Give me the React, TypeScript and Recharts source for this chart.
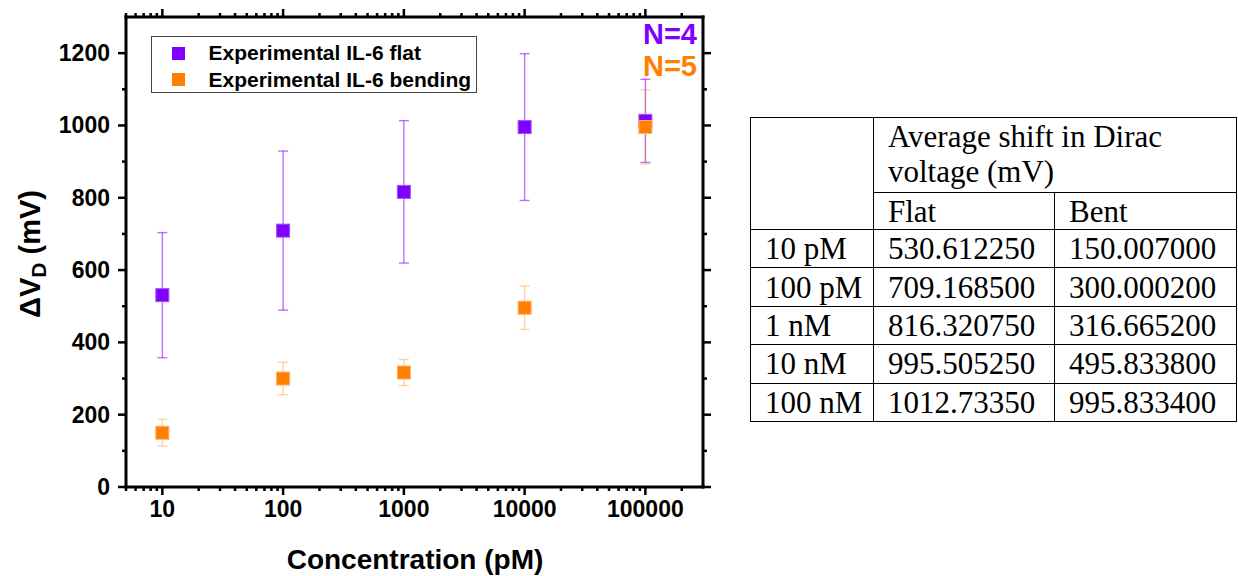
import React from 'react';
import { ScatterChart, Scatter, XAxis, YAxis, ErrorBar } from 'recharts';

// concentrations in pM
const concentrations = [10, 100, 1000, 10000, 100000];
const flatMean = [530.61225, 709.1685, 816.32075, 995.50525, 1012.7335];
const flatErr = [173, 220, 197, 203, 115];
const bentMean = [150.007, 300.0002, 316.6652, 495.8338, 995.8334];
const bentErr = [37, 45, 36, 60, 103];

const xMajorTicks = [10, 100, 1000, 10000, 100000];
const xDecades = [1, 10, 100, 1000, 10000, 100000];
const xMinorSteps = [1, 2, 3, 4, 5, 6, 7, 8, 9];
const yMajorTicks = [0, 200, 400, 600, 800, 1000, 1200];
const yMinorTicks = [100, 300, 500, 700, 900, 1100];

const tableRowLabels = ['10 pM', '100 pM', '1 nM', '10 nM', '100 nM'];
const tableFlat = ['530.612250', '709.168500', '816.320750', '995.505250', '1012.73350'];
const tableBent = ['150.007000', '300.000200', '316.665200', '495.833800', '995.833400'];

const PURPLE = '#8000ff';
const ORANGE = '#ff8000';
const SANS = '"Liberation Sans", Arial, sans-serif';
const SERIF = '"Liberation Serif", "Times New Roman", serif';

const flatData = concentrations.map((c, i) => ({ x: c, y: flatMean[i], err: flatErr[i] }));
const bentData = concentrations.map((c, i) => ({ x: c, y: bentMean[i], err: bentErr[i] }));

const xTicks = xDecades
  .flatMap((d) => xMinorSteps.map((m) => d * m))
  .filter((v) => v >= 5 && v < 300000);
const yTicks = [...yMajorTicks, ...yMinorTicks].sort((a, b) => a - b);

const axisStyle = { stroke: '#000', strokeWidth: 3, strokeLinecap: 'square' as const };

const BottomTick = (props: any) => {
  const { x, y, payload } = props;
  const major = xMajorTicks.includes(payload.value);
  return (
    <g>
      <line x1={x} x2={x} y1={y} y2={y + (major ? 8 : 4)} stroke="#000" strokeWidth={2.5} />
      {major && (
        <text x={x} y={y + 30} textAnchor="middle" fontFamily={SANS} fontWeight="bold" fontSize={23} fill="#000">
          {payload.value}
        </text>
      )}
    </g>
  );
};

const TopTick = (props: any) => {
  const { x, y, payload } = props;
  const major = xMajorTicks.includes(payload.value);
  return <line x1={x} x2={x} y1={y} y2={y - (major ? 8 : 4)} stroke="#000" strokeWidth={2.5} />;
};

const LeftTick = (props: any) => {
  const { x, y, payload } = props;
  const major = yMajorTicks.includes(payload.value);
  return (
    <g>
      <line x1={x} x2={x - (major ? 8 : 4)} y1={y} y2={y} stroke="#000" strokeWidth={2.5} />
      {major && (
        <text x={x - 16} y={y + 8} textAnchor="end" fontFamily={SANS} fontWeight="bold" fontSize={23} fill="#000">
          {payload.value}
        </text>
      )}
    </g>
  );
};

const RightTick = (props: any) => {
  const { x, y, payload } = props;
  const major = yMajorTicks.includes(payload.value);
  return <line x1={x} x2={x + (major ? 8 : 4)} y1={y} y2={y} stroke="#000" strokeWidth={2.5} />;
};

const square = (fill: string, edge: string) => (p: any) => (
  <rect x={p.cx - 6.5} y={p.cy - 6.5} width={13} height={13} fill={fill} stroke={edge} strokeWidth={1} />
);

const XTitle = () => (
  <text x={415} y={569} textAnchor="middle" fontFamily={SANS} fontWeight="bold" fontSize={28} fill="#000">
    Concentration (pM)
  </text>
);

const YTitle = () => (
  <text transform="translate(40,254) rotate(-90)" textAnchor="middle" fontFamily={SANS} fontWeight="bold" fontSize={29} fill="#000">
    ΔV<tspan fontSize={21} dy={6}>D</tspan>
    <tspan dy={-6}> (mV)</tspan>
  </text>
);

const cell: React.CSSProperties = {
  border: '1.5px solid #000',
  padding: '0 0 0 14px',
  lineHeight: '35px',
  whiteSpace: 'nowrap',
  overflow: 'hidden',
  verticalAlign: 'middle',
};

export default function App() {
  return (
    <div style={{ position: 'absolute', left: 0, top: 0, width: 1238, height: 576, background: '#fff' }}>
      <ScatterChart width={720} height={576} margin={{ top: 7, right: 7, bottom: 29, left: 66 }}>
        <XAxis
          xAxisId="b"
          orientation="bottom"
          type="number"
          dataKey="x"
          scale="log"
          domain={[5, 300000]}
          allowDataOverflow
          ticks={xTicks}
          interval={0}
          tickSize={0}
          tickMargin={0}
          tickLine={false}
          axisLine={axisStyle}
          tick={(p: any) => <BottomTick {...p} />}
          height={60}
          label={<XTitle />}
        />
        <XAxis
          xAxisId="t"
          orientation="top"
          type="number"
          dataKey="x"
          scale="log"
          domain={[5, 300000]}
          allowDataOverflow
          ticks={xTicks}
          interval={0}
          tickSize={0}
          tickMargin={0}
          tickLine={false}
          axisLine={axisStyle}
          tick={(p: any) => <TopTick {...p} />}
          height={10}
        />
        <YAxis
          yAxisId="l"
          orientation="left"
          type="number"
          dataKey="y"
          domain={[0, 1300]}
          allowDataOverflow
          ticks={yTicks}
          interval={0}
          tickSize={0}
          tickMargin={0}
          tickLine={false}
          axisLine={axisStyle}
          tick={(p: any) => <LeftTick {...p} />}
          width={60}
          label={<YTitle />}
        />
        <YAxis
          yAxisId="r"
          orientation="right"
          type="number"
          dataKey="y"
          domain={[0, 1300]}
          allowDataOverflow
          ticks={yTicks}
          interval={0}
          tickSize={0}
          tickMargin={0}
          tickLine={false}
          axisLine={axisStyle}
          tick={(p: any) => <RightTick {...p} />}
          width={10}
        />
        <Scatter
          name="Experimental IL-6 flat"
          xAxisId="b"
          yAxisId="l"
          data={flatData}
          isAnimationActive={false}
          shape={square(PURPLE, '#a050ff')}
        >
          <ErrorBar dataKey="err" direction="y" width={5} stroke={PURPLE} strokeOpacity={0.55} strokeWidth={1.4} />
        </Scatter>
        <Scatter
          name="Experimental IL-6 bending"
          xAxisId="b"
          yAxisId="l"
          data={bentData}
          isAnimationActive={false}
          shape={square(ORANGE, '#ffb060')}
        >
          <ErrorBar dataKey="err" direction="y" width={5} stroke={ORANGE} strokeOpacity={0.35} strokeWidth={1.4} />
        </Scatter>
      </ScatterChart>

      {/* sample counts */}
      <svg width={720} height={100} style={{ position: 'absolute', left: 0, top: 0, pointerEvents: 'none' }}>
        <text x={697} y={44} textAnchor="end" fontFamily={SANS} fontWeight="bold" fontSize={29} fill={PURPLE}>N=4</text>
        <text x={697} y={76} textAnchor="end" fontFamily={SANS} fontWeight="bold" fontSize={29} fill={ORANGE}>N=5</text>
      </svg>

      {/* legend */}
      <div
        style={{
          position: 'absolute',
          left: 151,
          top: 36,
          width: 326,
          height: 57,
          boxSizing: 'border-box',
          border: '1px solid #444',
          fontFamily: SANS,
          fontWeight: 'bold',
          fontSize: 21,
          color: '#000',
        }}
      >
        {[
          { label: 'Experimental IL-6 flat', color: PURPLE },
          { label: 'Experimental IL-6 bending', color: ORANGE },
        ].map((it, i) => (
          <div key={i} style={{ position: 'absolute', left: 0, top: 3 + i * 26.5, height: 26, display: 'flex', alignItems: 'center', whiteSpace: 'nowrap' }}>
            <span style={{ display: 'inline-block', width: 13, height: 13, background: it.color, marginLeft: 19.5 }} />
            <span style={{ marginLeft: 24 }}>{it.label}</span>
          </div>
        ))}
      </div>

      {/* table */}
      <table
        style={{
          position: 'absolute',
          left: 750,
          top: 117,
          width: 486,
          borderCollapse: 'collapse',
          tableLayout: 'fixed',
          fontFamily: SERIF,
          fontSize: 31,
          color: '#000',
        }}
      >
        <colgroup>
          <col style={{ width: 123 }} />
          <col style={{ width: 181 }} />
          <col style={{ width: 182 }} />
        </colgroup>
        <tbody>
          <tr style={{ height: 75 }}>
            <td rowSpan={2} style={cell} />
            <td colSpan={2} style={{ ...cell, verticalAlign: 'top', paddingTop: 1 }}>
              Average shift in Dirac
              <br />
              voltage (mV)
            </td>
          </tr>
          <tr style={{ height: 37 }}>
            <td style={cell}>Flat</td>
            <td style={cell}>Bent</td>
          </tr>
          {tableRowLabels.map((lab, i) => (
            <tr key={lab} style={{ height: 38.4 }}>
              <td style={cell}>{lab}</td>
              <td style={cell}>{tableFlat[i]}</td>
              <td style={cell}>{tableBent[i]}</td>
            </tr>
          ))}
        </tbody>
      </table>
    </div>
  );
}
